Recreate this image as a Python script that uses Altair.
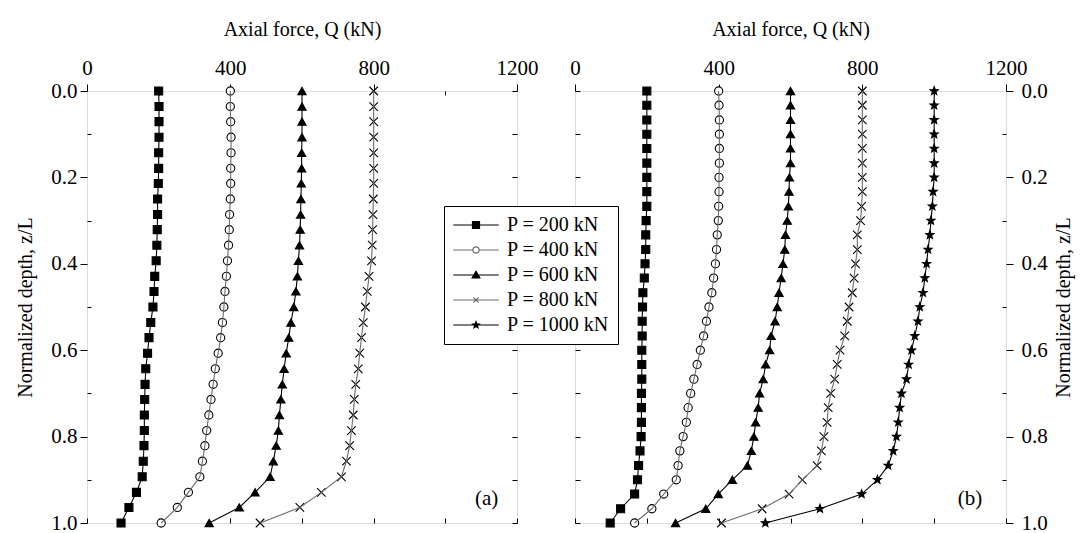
import altair as alt
import pandas as pd

FONT = "Liberation Serif, Times New Roman, serif"

labels = ["P = 200 kN", "P = 400 kN", "P = 600 kN", "P = 800 kN", "P = 1000 kN"]

# depth grids (normalized depth z/L)
depth_a = [0, .036, .071, .107, .143, .179, .214, .25, .286, .321, .357, .393, .429, .464, .5,
           .536, .571, .607, .643, .679, .714, .75, .786, .821, .857, .893, .929, .964, 1.0]
depth_b = [0, .033, .067, .1, .133, .167, .2, .233, .267, .3, .333, .367, .4, .433, .467, .5,
           .533, .567, .6, .633, .667, .7, .733, .767, .8, .833, .867, .9, .933, .967, 1.0]

# panel (a) axial force Q (kN)
a200 = [200, 201, 201, 201, 200, 200, 199, 197, 197, 196, 195, 193, 189, 187, 184, 178, 173, 169,
        164, 162, 161, 160, 160, 159, 157, 154, 138, 117, 95]
a400 = [400, 400, 401, 402, 402, 401, 401, 400, 398, 397, 395, 392, 389, 385, 382, 378, 373, 366,
        358, 352, 346, 340, 334, 329, 322, 315, 283, 252, 207]
a600 = [600, 600, 600, 600, 599, 599, 598, 597, 596, 595, 593, 590, 587, 583, 577, 569, 563, 556,
        550, 545, 541, 537, 534, 528, 520, 511, 469, 425, 341]
a800 = [800, 800, 800, 800, 800, 800, 800, 799, 798, 797, 796, 794, 787, 782, 777, 771, 766, 761,
        757, 750, 746, 743, 738, 733, 724, 710, 654, 594, 483]

# panel (b)
b200 = [200, 200, 200, 200, 200, 200, 200, 200, 200, 198, 197, 197, 195, 193, 189, 188, 187, 187,
        186, 186, 186, 185, 185, 185, 184, 181, 177, 174, 166, 127, 98]
b400 = [400, 401, 402, 402, 402, 402, 401, 401, 400, 399, 396, 394, 391, 386, 381, 373, 366, 358,
        349, 340, 331, 322, 315, 310, 301, 292, 287, 282, 247, 214, 166]
b600 = [600, 600, 600, 600, 600, 600, 597, 596, 594, 591, 586, 584, 579, 574, 568, 563, 557, 546,
        542, 531, 524, 514, 510, 503, 498, 491, 480, 438, 399, 364, 280]
b800 = [800, 800, 800, 800, 800, 800, 800, 800, 798, 795, 786, 786, 781, 777, 772, 763, 758, 751,
        738, 730, 723, 712, 705, 702, 693, 686, 674, 633, 596, 521, 408]
b1000 = [1000, 1000, 1000, 1000, 1000, 1000, 1000, 997, 995, 991, 988, 983, 979, 974, 969, 960, 955,
         946, 937, 929, 923, 909, 904, 900, 895, 886, 872, 842, 798, 682, 530]

panel_tags = ["(a)", "(b)"]
tag_q = [1115, 1100]
tag_z = [0.944, 0.944]

x_major = [0, 400, 800, 1200]
x_minor = [200, 600, 1000]
x_all = [0, 200, 400, 600, 800, 1000, 1200]
y_major = [0, 0.2, 0.4, 0.6, 0.8, 1.0]
y_minor = [0.1, 0.3, 0.5, 0.7, 0.9]
y_all = [0, 0.1, 0.2, 0.3, 0.4, 0.5, 0.6, 0.7, 0.8, 0.9, 1.0]

STAR = ("M0,-1L0.247,-0.34L0.951,-0.309L0.399,0.13L0.588,0.809L0,0.42L-0.588,0.809"
        "L-0.399,0.13L-0.951,-0.309L-0.247,-0.34Z")
XMARK = "M-1,-1L1,1M-1,1L1,-1"
point_shapes = ["square", "circle", "triangle-up", XMARK, STAR]
point_fills = ["black", "white", "black", "black", "black"]
point_sizes = [64, 75, 95, 55, 100]

GRAY = "#6b6b6b"
leg_shapes = [
    "M-6.5,0H6.5M-1,-1H1V1H-1Z",
    "M-6.5,0H-0.9M0.9,0H6.5M-0.9,0A0.9,0.9 0 1,1 0.9,0A0.9,0.9 0 1,1 -0.9,0Z",
    "M-6.5,0H6.5M0,-1.05L1.1,0.85H-1.1Z",
    "M-6.5,0H6.5M-0.75,-0.75L0.75,0.75M-0.75,0.75L0.75,-0.75",
    "M-6.5,0H6.5M0,-0.95L0.235,-0.323L0.903,-0.294L0.379,0.124L0.559,0.769L0,0.4L-0.559,0.769"
    "L-0.379,0.124L-0.903,-0.294L-0.235,-0.323Z",
]
leg_strokes = ["black", GRAY, "black", GRAY, "black"]


def make_df(depth, series):
    rows = []
    for lab, vals in series:
        for i, (z, q) in enumerate(zip(depth, vals)):
            rows.append({"series": lab, "z": z, "Q": q, "idx": i})
    return pd.DataFrame(rows)


df_a = make_df(depth_a, [(labels[0], a200), (labels[1], a400), (labels[2], a600), (labels[3], a800)])
df_b = make_df(depth_b, [(labels[0], b200), (labels[1], b400), (labels[2], b600), (labels[3], b800),
                         (labels[4], b1000)])

xs = alt.Scale(domain=[0, 1200], nice=False, zero=False)
ys = alt.Scale(domain=[0, 1], reverse=True, nice=False, zero=False)

common_axis = dict(domain=False, tickColor="black", tickWidth=1, grid=False,
                   labelFont=FONT, titleFont=FONT, labelColor="black", titleColor="black")


def major_x(title):
    return alt.Axis(orient="top", values=x_major, format="d", tickSize=7, labelPadding=6,
                    labelFontSize=21, labelFlush=False, labelOverlap=False, title=title,
                    titleFontSize=20, titleFontWeight="normal", titlePadding=18, **common_axis)


def major_y(side, title):
    kw = dict(orient=side, values=y_major, format=".1f", tickSize=7, labelFontSize=21,
              labelFlush=False, labelOverlap=False, title=title, titleFontSize=20,
              titleFontWeight="normal", **common_axis)
    if side == "left":
        kw.update(labelPadding=3, titlePadding=15)
    else:
        kw.update(labelPadding=8, titlePadding=6, titleAngle=270, titleBaseline="top")
    return alt.Axis(**kw)


def minor_axis(orient, vals, size=4):
    return alt.Axis(orient=orient, values=vals, tickSize=size, offset=-size, labels=False,
                    title=None, **common_axis)


def panel(df, side, tag, tq, tz, width, xtitle, with_legend):
    mirror = "right" if side == "left" else "left"
    black_lines = alt.Chart(df).transform_filter(
        "indexof(['P = 400 kN','P = 800 kN'], datum.series) < 0"
    ).mark_line(color="black", strokeWidth=1.1).encode(
        x=alt.X("Q:Q", scale=xs, axis=major_x(xtitle)),
        y=alt.Y("z:Q", scale=ys, axis=major_y(side, "Normalized depth, z/L")),
        detail="series:N",
        order="idx:Q",
    )
    pts = alt.Chart(df).mark_point(filled=True, stroke="black", strokeWidth=1.1, opacity=1).encode(
        x=alt.X("Q:Q", scale=xs, axis=minor_axis("top", x_minor)),
        y=alt.Y("z:Q", scale=ys, axis=minor_axis(side, y_minor)),
        shape=alt.Shape("series:N", scale=alt.Scale(domain=labels, range=point_shapes), legend=None),
        fill=alt.Fill("series:N", scale=alt.Scale(domain=labels, range=point_fills), legend=None),
        size=alt.Size("series:N", scale=alt.Scale(domain=labels, range=point_sizes), legend=None),
    )
    gray_lines = alt.Chart(df).transform_filter(
        "indexof(['P = 400 kN','P = 800 kN'], datum.series) >= 0"
    ).mark_line(color=GRAY, strokeWidth=1.1).encode(
        x=alt.X("Q:Q", scale=xs, axis=minor_axis("bottom", x_all, 5)),
        y=alt.Y("z:Q", scale=ys, axis=minor_axis(mirror, y_all, 5)),
        detail="series:N",
        order="idx:Q",
    )
    tag_df = pd.DataFrame({"t": [tag], "Q": [tq], "z": [tz]})
    txt = alt.Chart(tag_df).mark_text(font=FONT, fontSize=21, color="black").encode(
        x=alt.X("Q:Q", scale=xs, axis=None),
        y=alt.Y("z:Q", scale=ys, axis=None),
        text="t:N",
    )
    layers = [black_lines, pts, gray_lines, txt]
    if with_legend:
        leg = alt.Legend(title=None, orient="none", legendX=-131, legendY=115, labelFont=FONT,
                         labelFontSize=20, labelColor="black", strokeColor="black",
                         fillColor="white", padding=9, rowPadding=5, symbolOffset=13,
                         labelOffset=21, symbolStrokeWidth=1.2, symbolSize=49, cornerRadius=0,
                         labelLimit=300)
        leg_df = pd.DataFrame({"series": labels, "Q": [0] * 5, "z": [0] * 5})
        dummy = alt.Chart(leg_df).transform_filter("false").mark_point(
            filled=True, size=49, strokeWidth=1.2, opacity=1
        ).encode(
            x=alt.X("Q:Q", scale=xs, axis=None),
            y=alt.Y("z:Q", scale=ys, axis=None),
            shape=alt.Shape("series:N", scale=alt.Scale(domain=labels, range=leg_shapes), legend=leg),
            fill=alt.Fill("series:N", scale=alt.Scale(domain=labels, range=point_fills), legend=leg),
            stroke=alt.Stroke("series:N", scale=alt.Scale(domain=labels, range=leg_strokes), legend=leg),
        )
        layers.append(dummy)
    return alt.layer(*layers).resolve_axis(x="independent", y="independent").resolve_scale(
        shape="independent", fill="independent", stroke="independent", size="independent"
    ).properties(width=width, height=432)


left = panel(df_a, "left", panel_tags[0], tag_q[0], tag_z[0], 430, "Axial force, Q (kN)", False)
right = panel(df_b, "right", panel_tags[1], tag_q[1], tag_z[1], 431, "Axial force, Q  (kN)", True)

chart = alt.hconcat(left, right, spacing=58, bounds="flush").resolve_scale(
    shape="independent", fill="independent", stroke="independent", size="independent"
).properties(
    padding={"left": 15, "top": 18, "right": 5, "bottom": 5}
).configure_view(stroke="black", strokeWidth=1.2).configure(background="white")

chart.save("out.html", embed_options={"renderer": "svg", "actions": False})
